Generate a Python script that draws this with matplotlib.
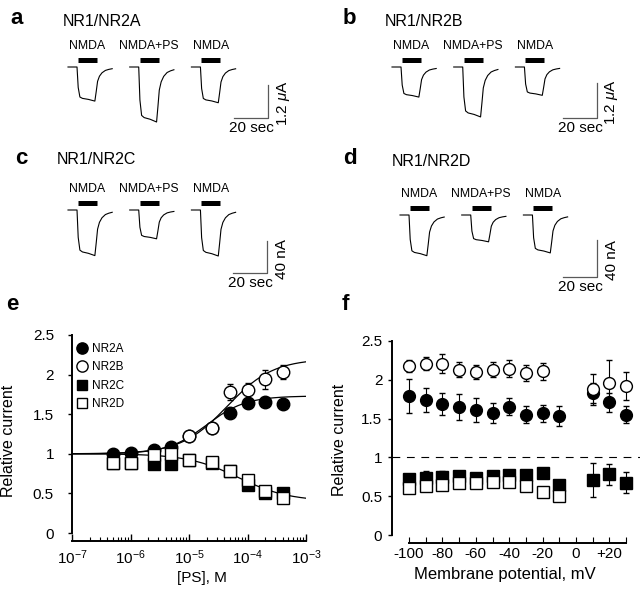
import numpy as np
import matplotlib.pyplot as plt

plt.rcParams['font.family'] = ['Liberation Sans', 'DejaVu Sans']
plt.rcParams['mathtext.fontset'] = 'custom'
plt.rcParams['mathtext.rm'] = 'Liberation Sans'
plt.rcParams['mathtext.it'] = 'Liberation Sans:italic'

W, H = 640, 602

# ---------------- traces a-d: one response shape (fraction of peak) scaled per trace
resp_t = [0, 5.3, 6.0, 7.0, 8.5, 12.0, 15.8, 16.6, 17.4, 18.5, 20.0, 22.0, 24.0, 26.0]
resp_v = [0, 0, -0.6, -0.88, -0.92, -0.95, -1.0, -0.72, -0.42, -0.27, -0.17, -0.10, -0.07, -0.05]
drug_on, drug_off = 5.8, 17.0           # s, application bar
trace_gap = 36.3                        # s between the three recordings
trace_names = ['NMDA', 'NMDA+PS', 'NMDA']

amp_a = [1.24, 2.00, 1.30]   # uA
amp_b = [1.03, 1.71, 0.97]   # uA
amp_c = [57, 36, 57.5]       # nA
amp_d = [44, 29, 41]         # nA

# ---------------- e: concentration-response
ps_conc = [0.5e-6, 1e-6, 2.5e-6, 5e-6, 1e-5, 2.5e-5, 5e-5, 1e-4, 2e-4, 4e-4]
e_2a = [1.00, 1.01, 1.05, 1.08, 1.22, 1.33, 1.52, 1.64, 1.66, 1.63]
e_2a_err = [0.02, 0.02, 0.02, 0.03, 0.03, 0.03, 0.06, 0.06, 0.06, 0.03]
ps_conc_2b = [1e-5, 2.5e-5, 5e-5, 1e-4, 2e-4, 4e-4]
e_2b = [1.22, 1.33, 1.78, 1.80, 1.94, 2.03]
e_2b_err = [0.03, 0.03, 0.10, 0.09, 0.12, 0.09]
e_2c = [0.89, 0.89, 0.87, 0.87, 0.92, 0.88, 0.78, 0.60, 0.50, 0.50]
e_2c_err = [0.02, 0.02, 0.02, 0.02, 0.02, 0.02, 0.03, 0.05, 0.03, 0.03]
e_2d = [0.89, 0.89, 0.98, 1.00, 0.92, 0.90, 0.78, 0.67, 0.53, 0.44]
e_2d_err = [0.02, 0.02, 0.02, 0.02, 0.02, 0.02, 0.03, 0.05, 0.03, 0.03]

# Hill fits (max, EC50 [M], slope)
fit_2a = (1.73, 20e-6, 1.3)
fit_2b = (2.20, 45e-6, 1.1)
fit_cd = (0.40, 70e-6, 1.0)

# ---------------- f: voltage dependence
vm = [-100, -90, -80, -70, -60, -50, -40, -30, -20, -10, 10, 20, 30]
f_2a = [1.79, 1.74, 1.69, 1.65, 1.61, 1.57, 1.65, 1.55, 1.57, 1.53, 1.83, 1.71, 1.55]
f_2a_err = [0.22, 0.15, 0.14, 0.17, 0.15, 0.13, 0.11, 0.11, 0.11, 0.13, 0.13, 0.12, 0.11]
vm_2b = [-100, -90, -80, -70, -60, -50, -40, -30, -20, 10, 20, 30]
f_2b = [2.18, 2.21, 2.21, 2.13, 2.10, 2.13, 2.14, 2.09, 2.11, 1.88, 1.96, 1.92]
f_2b_err = [0.08, 0.09, 0.12, 0.10, 0.09, 0.10, 0.11, 0.10, 0.11, 0.20, 0.29, 0.18]
f_2c = [0.72, 0.73, 0.745, 0.755, 0.74, 0.76, 0.775, 0.77, 0.80, 0.645, 0.71, 0.78, 0.675]
f_2c_err = [0.03, 0.10, 0.08, 0.03, 0.03, 0.03, 0.03, 0.03, 0.03, 0.06, 0.22, 0.13, 0.14]
vm_2d = [-100, -90, -80, -70, -60, -50, -40, -30, -20, -10]
f_2d = [0.61, 0.63, 0.65, 0.665, 0.665, 0.68, 0.68, 0.635, 0.555, 0.505]
f_2d_err = [0.02] * 10

yticks = [0, 0.5, 1, 1.5, 2, 2.5]
ytick_labels = ['0', '0.5', '1', '1.5', '2', '2.5']
vm_ticks = [-100, -80, -60, -40, -20, 0, 20]
vm_labels = ['-100', '-80', '-60', '-40', '-20', '0', '+20']

fig = plt.figure(figsize=(W / 100, H / 100), dpi=100)


def px_axes(x0, y0, x1, y1):
    return fig.add_axes([x0 / W, 1 - y1 / H, (x1 - x0) / W, (y1 - y0) / H])


def ftext(x, y, s, **kw):
    fig.text(x / W, 1 - y / H, s, **kw)


def trace_panel(letter, title, amps, x0, base, sx, sy, corner, vbar, vlabel, lxy, txy):
    ax = px_axes(x0 - 10, base - 40, x0 + 240, base + 80)
    ax.set_xlim(-10 / sx, 240 / sx)
    ax.set_ylim(-80 / sy, 40 / sy)
    ax.axis('off')
    for i, (amp, name) in enumerate(zip(amps, trace_names)):
        t0 = i * trace_gap
        ax.plot(np.array(resp_t) + t0, np.array(resp_v) * amp, color='k', lw=0.8)
        ax.plot([t0 + drug_on, t0 + drug_off], [7 / sy] * 2, color='k', lw=3.6,
                solid_capstyle='butt')
        ax.text(t0 + (drug_on + drug_off) / 2, 21 / sy, name, ha='center', va='center',
                fontsize=8.8)
    tc = (corner[0] - x0) / sx
    vc = -(corner[1] - base) / sy
    ax.plot([tc - 20, tc, tc], [vc, vc, vc + vbar], color='0.35', lw=0.9)
    ax.text(tc - 10, vc - 3 / sy, '20 sec', ha='center', va='top', fontsize=11)
    ax.text(tc + 15 / sx, vc + vbar / 2 - 2 / sy, vlabel, ha='center', va='center',
            rotation=90, fontsize=11)
    ftext(lxy[0], lxy[1], letter, fontsize=16, fontweight='bold', ha='left', va='center')
    ftext(txy[0], txy[1], title, fontsize=11.5, ha='left', va='center')


trace_panel('a', 'NR1/NR2A', amp_a, 68, 67, 1.7, 27.5, (268, 118), 1.2, '1.2 $\\mu$A',
            (10, 18), (63, 21))
trace_panel('b', 'NR1/NR2B', amp_b, 392, 67, 1.7, 29.2, (597, 118), 1.2, '1.2 $\\mu$A',
            (343, 18), (385, 21))
trace_panel('c', 'NR1/NR2C', amp_c, 68, 210, 1.7, 0.8, (267, 273), 40, '40 nA',
            (15, 158), (57, 160))
trace_panel('d', 'NR1/NR2D', amp_d, 400, 215, 1.7, 0.925, (597, 277), 40, '40 nA',
            (343, 159), (392, 161))


def style_axes(ax, ypad):
    for s in ['top', 'right']:
        ax.spines[s].set_visible(False)
    for s in ['left', 'bottom']:
        ax.spines[s].set_linewidth(1.4)
    ax.spines['left'].set_bounds(0, 2.5)
    ax.set_yticks(yticks)
    ax.set_yticklabels(ytick_labels)
    ax.tick_params(axis='y', direction='out', length=3, width=1, pad=ypad, labelsize=11)


mk = dict(color='k', ls='none', capsize=2.5, elinewidth=0.8, capthick=0.8, mew=1)

# ---------------- e
ax_e = px_axes(72, 335, 306, 541)
ax_e.set_xscale('log')
ax_e.set_xlim(1e-7, 1e-3)
ax_e.set_ylim(-0.101, 2.5)
style_axes(ax_e, 10)
ax_e.tick_params(axis='x', which='major', direction='in', length=5, width=1, pad=5, labelsize=11)
ax_e.tick_params(axis='x', which='minor', direction='in', length=3, width=0.8)

xx = np.logspace(-7, -3, 300)
for top, ec, n in (fit_2a, fit_2b, fit_cd):
    ax_e.plot(xx, 1 + (top - 1) * xx ** n / (xx ** n + ec ** n), color='k', lw=0.9, zorder=2)

h_a = ax_e.errorbar(ps_conc, e_2a, yerr=e_2a_err, fmt='o', ms=9, mfc='k', mec='k', zorder=3, **mk)
h_b = ax_e.errorbar(ps_conc_2b, e_2b, yerr=e_2b_err, fmt='o', ms=9, mfc='w', mec='k', zorder=4, **mk)
h_c = ax_e.errorbar(ps_conc, e_2c, yerr=e_2c_err, fmt='s', ms=8.5, mfc='k', mec='k', zorder=5, **mk)
h_d = ax_e.errorbar(ps_conc, e_2d, yerr=e_2d_err, fmt='s', ms=8.5, mfc='w', mec='k', zorder=6, **mk)
ax_e.legend([h_a[0], h_b[0], h_c[0], h_d[0]], ['NR2A', 'NR2B', 'NR2C', 'NR2D'],
            loc='upper left', bbox_to_anchor=(77 / W, 1 - 343 / H), bbox_transform=fig.transFigure,
            frameon=False, fontsize=8.5, handlelength=0.9, handletextpad=0.4,
            labelspacing=0.55, borderpad=0, borderaxespad=0, markerscale=0.9)
ax_e.set_ylabel('Relative current', fontsize=11.5)
ax_e.yaxis.set_label_coords(16 / W, 1 - 441 / H, transform=fig.transFigure)
ax_e.set_xlabel('[PS], M', fontsize=11)
ax_e.xaxis.set_label_coords(202 / W, 1 - 571 / H, transform=fig.transFigure)
ftext(12, 304, 'e', fontsize=16, fontweight='bold', ha='center', va='center')

# ---------------- f
ax_f = px_axes(392, 341, 640, 543)
ax_f.set_xlim(-110.2, 38.3)
ax_f.set_ylim(-0.103, 2.5)
style_axes(ax_f, 4)
ax_f.spines['bottom'].set_bounds(-100, 30)
ax_f.set_xticks(vm_ticks)
ax_f.set_xticklabels(vm_labels)
ax_f.set_xticks([-90, -70, -50, -30, -10, 10, 30], minor=True)
ax_f.tick_params(axis='x', which='both', direction='in', length=4, width=0.8, pad=3, labelsize=11)
ax_f.axhline(1, color='k', lw=0.8, ls=(0, (7, 6)), zorder=1)

ax_f.errorbar(vm, f_2a, yerr=f_2a_err, fmt='o', ms=8.5, mfc='k', mec='k', zorder=3, **mk)
ax_f.errorbar(vm_2b, f_2b, yerr=f_2b_err, fmt='o', ms=8.5, mfc='w', mec='k', zorder=4, **mk)
ax_f.errorbar(vm, f_2c, yerr=f_2c_err, fmt='s', ms=8, mfc='k', mec='k', zorder=5, **mk)
ax_f.errorbar(vm_2d, f_2d, yerr=f_2d_err, fmt='s', ms=8, mfc='w', mec='k', zorder=6, **mk)
ax_f.set_ylabel('Relative current', fontsize=11.5)
ax_f.yaxis.set_label_coords(347 / W, 1 - 440 / H, transform=fig.transFigure)
ax_f.set_xlabel('Membrane potential, mV', fontsize=12)
ax_f.xaxis.set_label_coords(505 / W, 1 - 567 / H, transform=fig.transFigure)
ftext(345, 305, 'f', fontsize=16, fontweight='bold', ha='center', va='center')

fig.savefig('out.png', dpi=100)
